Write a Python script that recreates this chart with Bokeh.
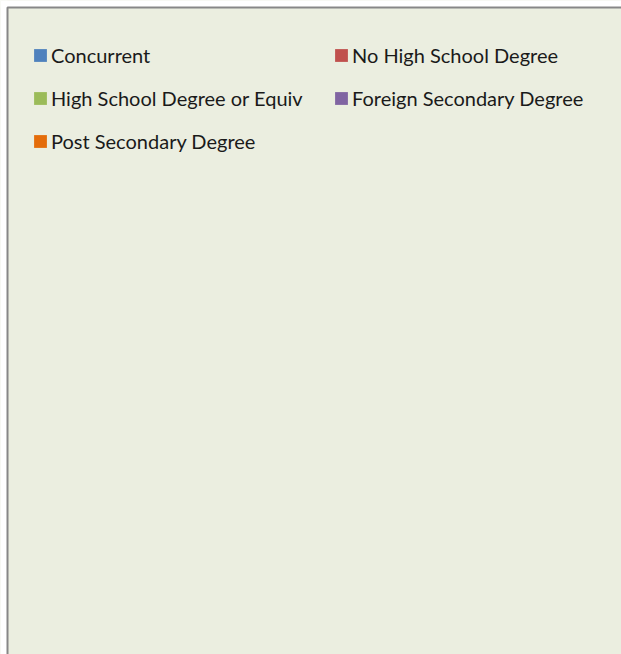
from bokeh.plotting import figure
from bokeh.models import Range1d, Legend, LegendItem, BoxAnnotation
from bokeh.embed import file_html
from bokeh.resources import INLINE

# Series names (the chart shows only its legend; no data marks are visible)
series = ["Concurrent", "No High School Degree", "High School Degree or Equiv",
          "Foreign Secondary Degree", "Post Secondary Degree"]
colors = ["#4F81BD", "#C0504D", "#9BBB59", "#8064A2", "#E46C0A"]
values = [float("nan")] * len(series)

BG = "#EBEEE0"
W, H = 621, 654

p = figure(width=W, height=H, output_backend="svg", toolbar_location=None,
           x_range=Range1d(0, W), y_range=Range1d(H, 0),
           min_border=0, background_fill_color=BG, border_fill_color="white",
           outline_line_color=None)
p.axis.visible = False
p.grid.visible = False

# white page area outside the chart box, then the box border (top & left)
p.add_layout(BoxAnnotation(left=0, right=W, top=0, bottom=7,
                           fill_color="white", fill_alpha=1, line_color=None))
p.add_layout(BoxAnnotation(left=0, right=7, top=0, bottom=H,
                           fill_color="white", fill_alpha=1, line_color=None))
p.add_layout(BoxAnnotation(left=7, top=7, right=2000, bottom=2000,
                           fill_color=None, line_color="#878787", line_alpha=1,
                           line_width=2))

renderers = {}
for name, c, v in zip(series, colors, values):
    r = p.quad(left=[v], right=[v], top=[v], bottom=[v],
               fill_color=c, line_color=None)
    renderers[name] = r

# legend fills column-major: reorder so rows read left-to-right as in reference
order = [0, 2, 4, 1, 3]
items = [LegendItem(label=series[i], renderers=[renderers[series[i]]]) for i in order]

legend = Legend(items=items, ncols=2, location=(32, 501),
                glyph_width=16, glyph_height=16, label_standoff=3,
                label_width=263, label_height=24, spacing=19,
                padding=0, margin=0,
                label_text_font="Lato", label_text_font_size="20px",
                label_text_color="#1a1a1a",
                background_fill_alpha=0, border_line_color=None)
p.add_layout(legend)

open("out.html", "w").write(file_html(p, INLINE))
